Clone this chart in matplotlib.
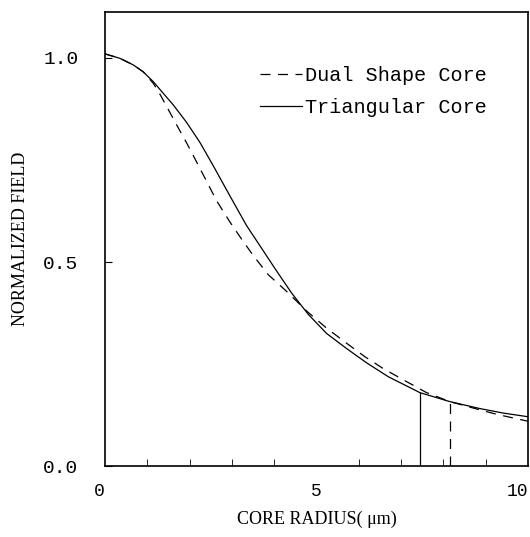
import matplotlib.pyplot as plt
import numpy as np

# values
radius_tri = [0.0, 0.355, 0.669, 0.905, 1.142, 1.34, 1.615, 1.931, 2.246, 2.56, 2.955, 3.35, 3.664,
              4.059, 4.414, 4.806, 5.241, 5.714, 6.187, 6.7, 7.447, 8.156, 8.865, 9.416, 10.0]
field_tri = [1.010, 0.999, 0.983, 0.966, 0.942, 0.918, 0.885, 0.842, 0.793, 0.736, 0.662, 0.589, 0.540,
             0.478, 0.424, 0.372, 0.325, 0.288, 0.253, 0.219, 0.180, 0.158, 0.141, 0.130, 0.121]

radius_dual = [0.0, 0.355, 0.669, 0.905, 1.142, 1.28, 1.418, 1.695, 1.93, 2.168, 2.442, 2.641, 2.955, 3.232,
               3.506, 3.861, 4.296, 4.768, 5.241, 5.714, 6.147, 6.579, 7.132, 7.605, 8.156, 8.787, 9.26, 10.0]
field_dual = [1.010, 0.999, 0.983, 0.966, 0.938, 0.915, 0.889, 0.836, 0.792, 0.745, 0.690, 0.650, 0.598, 0.556,
              0.516, 0.469, 0.428, 0.380, 0.338, 0.301, 0.268, 0.239, 0.207, 0.180, 0.158, 0.140, 0.127, 0.110]

cut_tri = (7.447, 0.180)
cut_dual = (8.156, 0.158)

mono = 'Liberation Mono'
serif = 'Liberation Serif'
dash = (0, (8, 6))

fig = plt.figure(figsize=(5.3, 5.37), dpi=100)
ax = fig.add_axes([0.198, 0.132, 0.798, 0.846])

ax.plot(radius_dual, field_dual, color='black', lw=0.9, ls=dash, label='Dual Shape Core')
ax.plot(radius_tri, field_tri, color='black', lw=0.9, ls='-', label='Triangular Core')
ax.plot([cut_tri[0], cut_tri[0]], [0, cut_tri[1]], color='black', lw=0.9)
ax.plot([cut_dual[0], cut_dual[0]], [0, cut_dual[1]], color='black', lw=0.9, ls=dash)

ax.set_xlim(0, 10)
ax.set_ylim(0, 1.113)
ax.set_xticks([0, 5, 10])
ax.set_xticks(np.arange(1, 10), minor=True)
ax.set_yticks([0.0, 0.5, 1.0])
ax.set_xticklabels(['0', '5', '10'], fontfamily=mono, fontsize=13)
ax.set_yticklabels(['0.0', '0.5', '1.0'], fontfamily=mono, fontsize=14)
ax.get_xticklabels()[-1].set_horizontalalignment('right')
ax.get_xticklabels()[0].set_horizontalalignment('right')
ax.tick_params(axis='x', which='both', direction='in', length=5, pad=12)
ax.tick_params(axis='y', which='major', direction='in', length=5, pad=19)
ax.tick_params(axis='x', which='major', length=0)

for s in ax.spines.values():
    s.set_linewidth(1.2)

ax.set_xlabel('CORE RADIUS( μm)', fontfamily=serif, fontsize=13, labelpad=7.5)
ax.set_ylabel('NORMALIZED FIELD', fontfamily=serif, fontsize=13, labelpad=10)

leg = ax.legend(loc='upper right', bbox_to_anchor=(0.903, 0.881), frameon=False,
                prop={'family': mono, 'size': 14.5}, handlelength=2.1, handletextpad=0.15,
                labelspacing=0.65, borderpad=0, borderaxespad=0)

fig.savefig('out.png', dpi=100)
